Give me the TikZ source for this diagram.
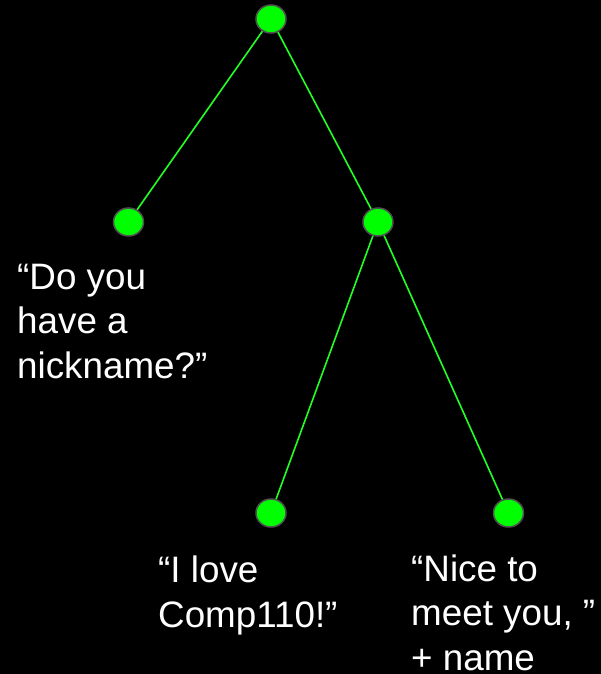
\documentclass[tikz,border=0pt]{standalone}
\usepackage{fontspec}
\setmainfont{Liberation Sans}
\usetikzlibrary{shapes.geometric}
\definecolor{lgreen}{HTML}{00FF00}
\definecolor{edgegreen}{HTML}{22FF22}
\definecolor{rimgray}{HTML}{505050}
\begin{document}
\begin{tikzpicture}[x=1pt,y=-1pt,
  leaf/.style={ellipse, draw=rimgray, line width=1.5pt, fill=lgreen, minimum width=30pt, minimum height=28pt, inner sep=0pt},
  edge/.style={draw=edgegreen, line width=1.6pt},
  label/.style={text=white, align=left, anchor=base west, inner sep=0pt, font=\fontsize{36.8}{44.5}\selectfont}]
\fill[black] (0,0) rectangle (601,674);
\useasboundingbox (0,0) rectangle (601,674);
\node[leaf] (r) at (271,19) {};
\node[leaf] (a) at (128.5,222) {};
\node[leaf] (b) at (378,222) {};
\node[leaf] (c) at (271,513) {};
\node[leaf] (d) at (508.5,513) {};
\draw[edge] (r) -- (a);
\draw[edge] (r) -- (b);
\draw[edge] (b) -- (c);
\draw[edge] (b) -- (d);
\node[label] (ta) at (17,378) {“Do you\\have a\\nickname?”};
\node[label] (tc) at (158,627) {“I love\\Comp110!”};
\node[label] (td) at (411,670) {“Nice to\\meet you, ”\\+ name};
\end{tikzpicture}
\end{document}
